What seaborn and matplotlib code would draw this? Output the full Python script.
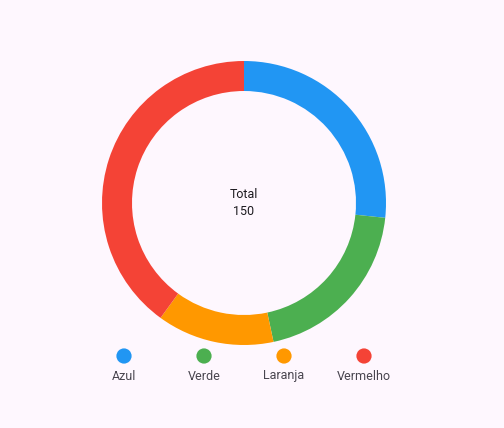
import matplotlib
matplotlib.use("Agg")
import matplotlib.pyplot as plt
import seaborn as sns
import pandas as pd

# Data
categories = ["Azul", "Verde", "Laranja", "Vermelho"]
values = [40, 30, 20, 60]
colors = ["#2196F3", "#4CAF50", "#FF9800", "#F44336"]

bg = "#FEF7FE"
text_color = "#1D1B20"
legend_text = "#49454F"

sns.set_theme(style="white")
plt.rcParams["font.family"] = ["Roboto", "DejaVu Sans"]

W, H = 504, 428
fig = plt.figure(figsize=(W / 100, H / 100), dpi=100, facecolor=bg)

# donut axes: center (244, 203) px, radius 142 px
cx, cy, r = 244, 203, 142
ax = fig.add_axes([(cx - r) / W, (H - cy - r) / H, 2 * r / W, 2 * r / H])
ax.set_facecolor(bg)
ax.pie(values, colors=colors, startangle=90, counterclock=False,
       radius=1.0, wedgeprops=dict(width=30 / 142, edgecolor="none", linewidth=0))
ax.set_xlim(-1, 1)
ax.set_ylim(-1, 1)
ax.set_aspect("equal")
ax.axis("off")
ax.text(0, 0.06, "Total", ha="center", va="center", fontsize=9, color=text_color)
ax.text(0, -0.06, "150", ha="center", va="center", fontsize=9, color=text_color)

# legend row: markers above labels
lax = fig.add_axes([0, 0, 1, 1])
lx = [124, 204, 284, 364]
leg = pd.DataFrame({"x": lx, "y": [356] * 4, "cat": categories})
sns.scatterplot(data=leg, x="x", y="y", hue="cat", palette=colors, s=120,
                edgecolor="none", legend=False, ax=lax)
lax.set_xlim(0, W)
lax.set_ylim(H, 0)
lax.axis("off")
for x, c in zip(lx, categories):
    lax.text(x, 376, c, ha="center", va="center", fontsize=9, color=legend_text)

fig.savefig("out.png", dpi=100, facecolor=bg)
